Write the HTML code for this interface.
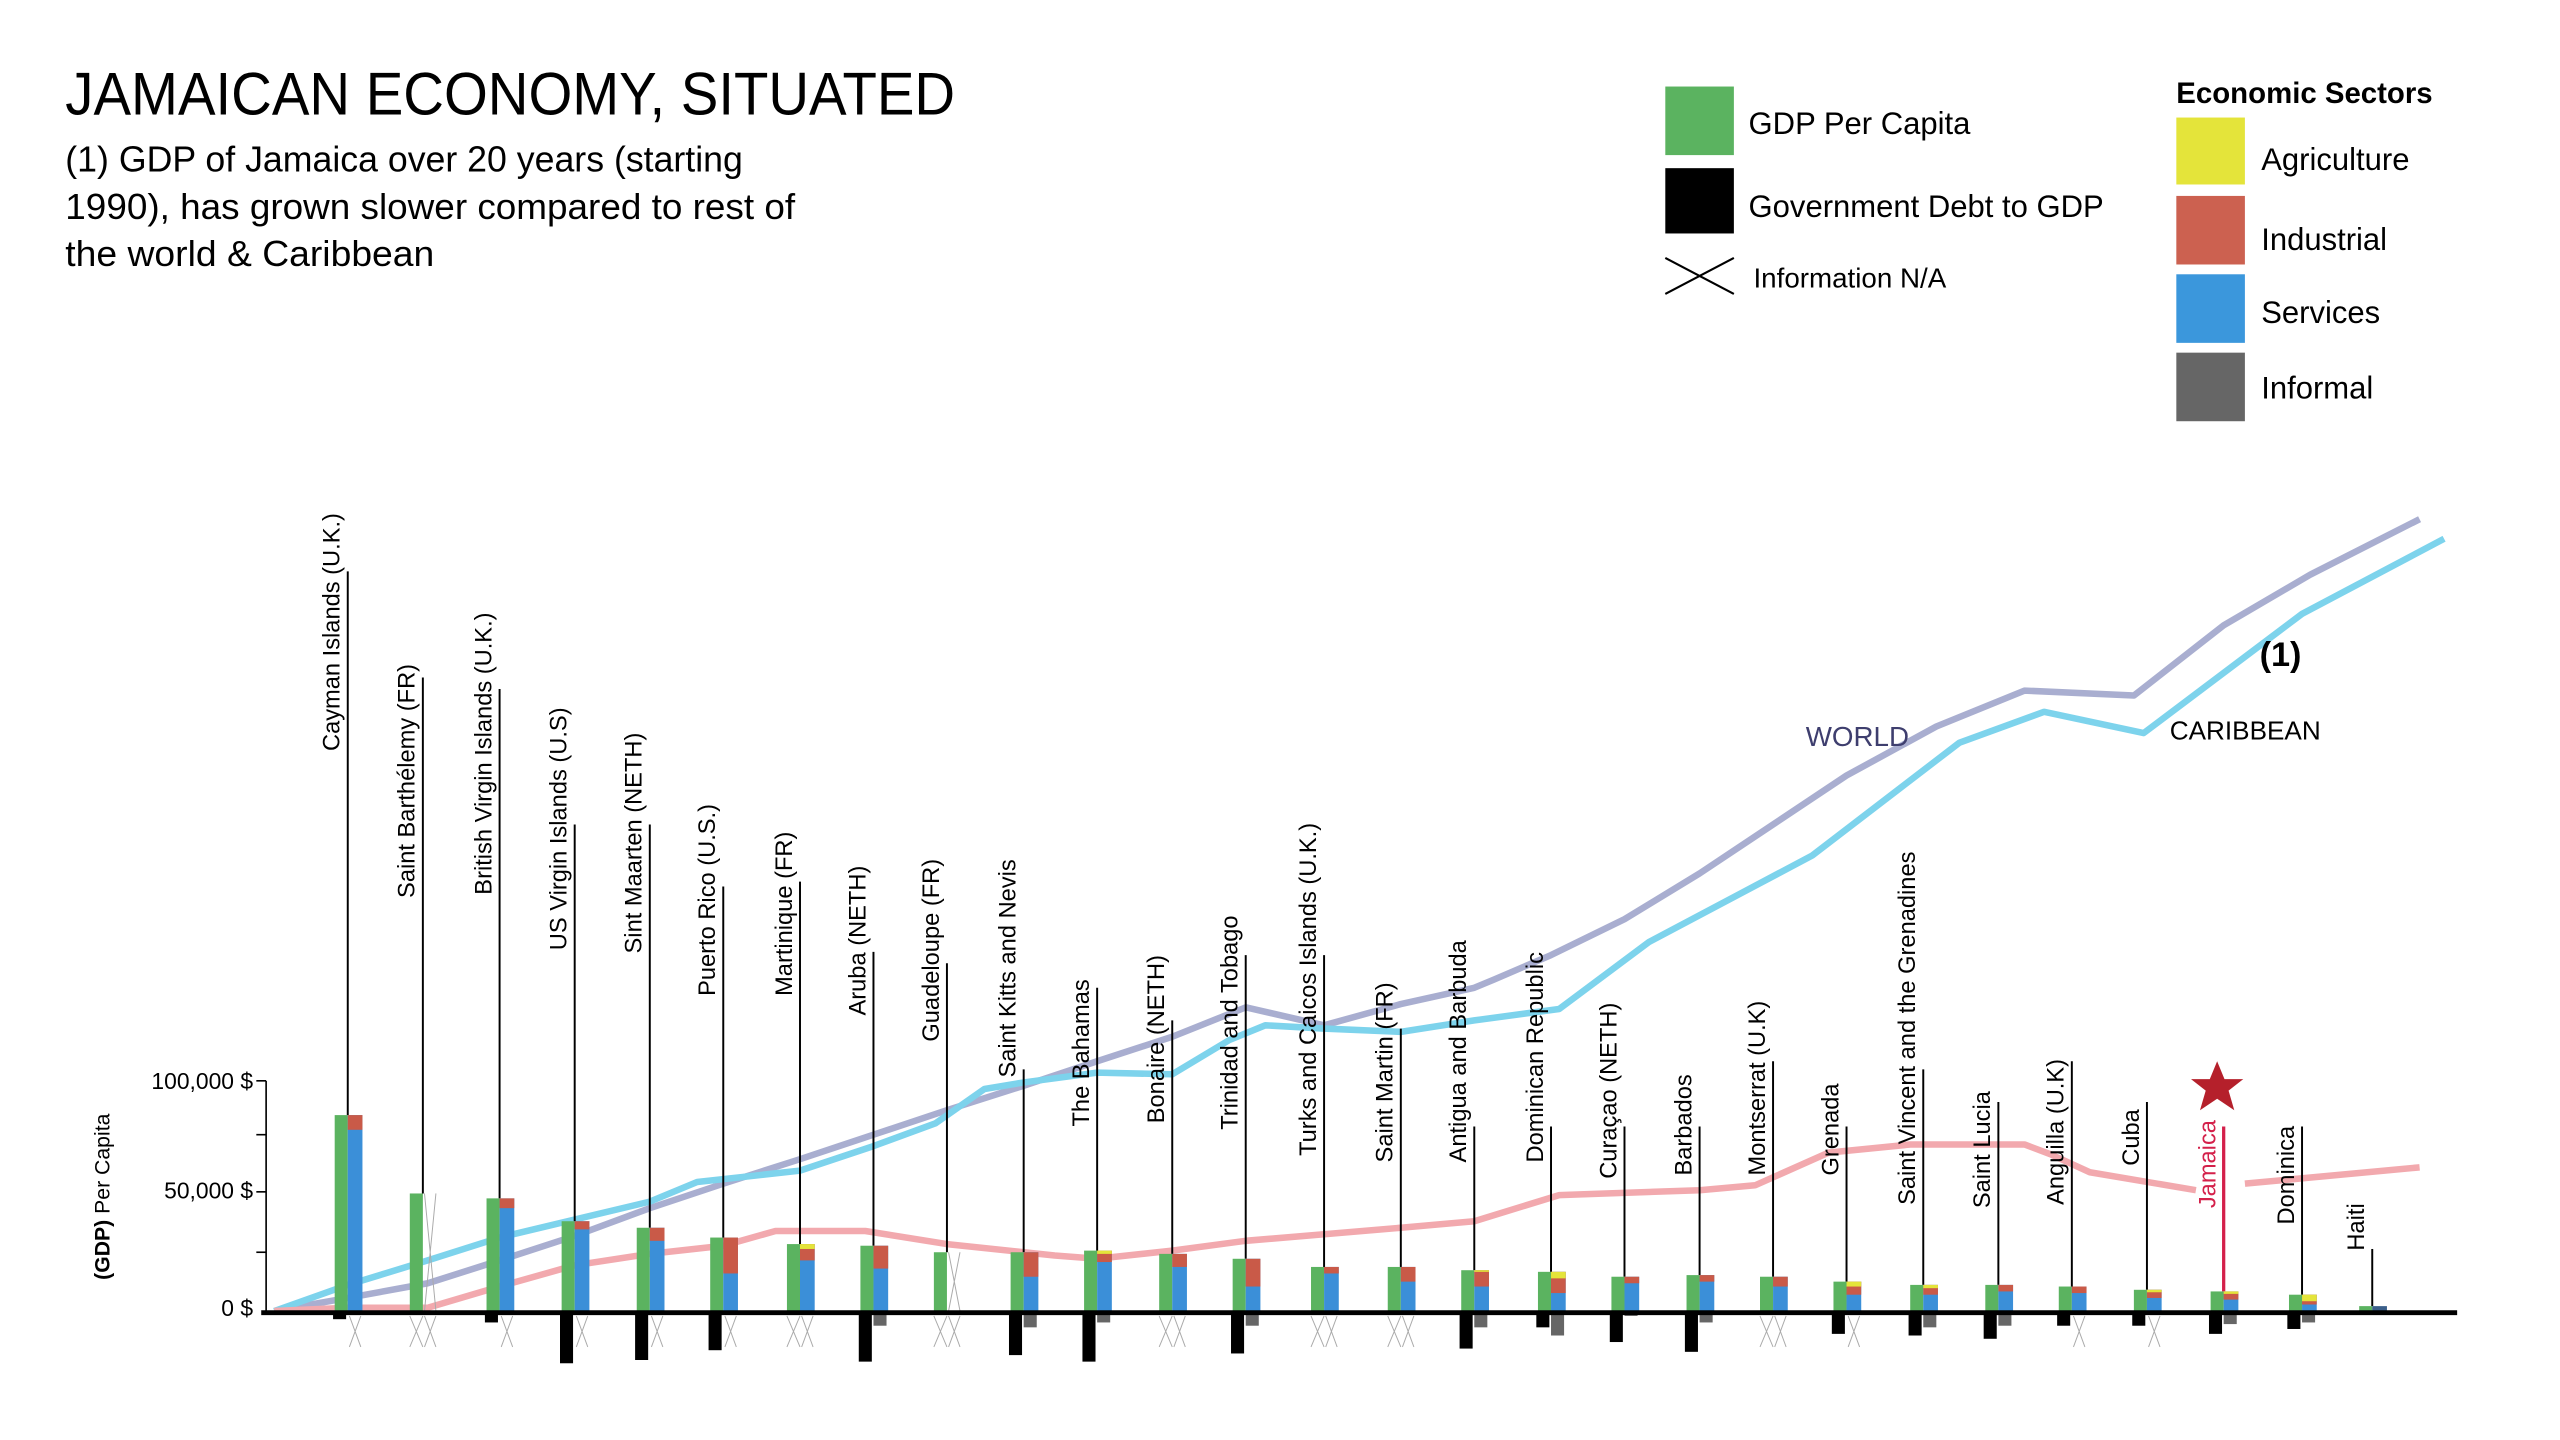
<!DOCTYPE html>
<html><head><meta charset="utf-8"><style>html,body{margin:0;padding:0;background:#fff;}svg{display:block}</style></head>
<body>
<svg width="2560" height="1440" viewBox="0 0 1568 882" preserveAspectRatio="none" xmlns="http://www.w3.org/2000/svg" font-family="'Liberation Sans Narrow','Liberation Sans',sans-serif">
<rect width="1568" height="882" fill="#fff"/>
<text x="40" y="70" font-size="37" textLength="545" lengthAdjust="spacingAndGlyphs">JAMAICAN ECONOMY, SITUATED</text>
<g font-size="22">
<text x="40" y="105" textLength="415" lengthAdjust="spacingAndGlyphs">(1) GDP of Jamaica over 20 years (starting</text>
<text x="40" y="134" textLength="447" lengthAdjust="spacingAndGlyphs">1990), has grown slower compared to rest of</text>
<text x="40" y="163" textLength="226" lengthAdjust="spacingAndGlyphs">the world &amp; Caribbean</text>
</g>
<!-- legend -->
<rect x="1020" y="53" width="42" height="42" fill="#5bb360"/>
<rect x="1020" y="103" width="42" height="40" fill="#000"/>
<path d="M1020 158 L1062 180 M1020 180 L1062 158" stroke="#000" stroke-width="1.3"/>
<g font-size="19" font-family="'Liberation Sans',sans-serif">
<text x="1071" y="82">GDP Per Capita</text>
<text x="1071" y="133">Government Debt to GDP</text>
<text x="1074" y="176" font-size="17">Information N/A</text>
<text x="1333" y="63" font-weight="bold" font-size="18">Economic Sectors</text>
<text x="1385" y="104">Agriculture</text>
<text x="1385" y="153">Industrial</text>
<text x="1385" y="198">Services</text>
<text x="1385" y="244">Informal</text>
</g>
<rect x="1333" y="72" width="42" height="41" fill="#e4e43a"/>
<rect x="1333" y="120" width="42" height="42" fill="#cc6150"/>
<rect x="1333" y="168" width="42" height="42" fill="#3b97dc"/>
<rect x="1333" y="216" width="42" height="42" fill="#666"/>

<!-- axis -->
<line x1="163" y1="662" x2="163" y2="803" stroke="#000" stroke-width="1"/>
<g stroke="#000" stroke-width="1"><line x1="157" y1="662" x2="163" y2="662"/><line x1="157" y1="695" x2="163" y2="695"/><line x1="157" y1="730" x2="163" y2="730"/><line x1="157" y1="767" x2="163" y2="767"/></g>
<g font-size="14" text-anchor="end"><text x="155" y="667">100,000 $</text><text x="155" y="734">50,000 $</text><text x="155" y="806">0 $</text></g>
<text transform="translate(67,733) rotate(-90)" text-anchor="middle" font-size="13" font-family="'Liberation Sans',sans-serif"><tspan font-weight="bold">(GDP)</tspan> Per Capita</text>

<!-- trend lines -->
<polyline fill="none" stroke="#a9aed0" stroke-width="4" stroke-linejoin="round" points="168,803 213,795 262,786 306,772 352,757 398,740 443,725 490,710 535,695 580,680 627,665 672,650 718,635 763,617 811,628 858,615 903,605 915,600 950,585 995,563 1041,535 1086,505 1131,475 1186,445 1240,423 1307,426 1362,383 1415,352 1482,318"/>
<polyline fill="none" stroke="#7dd3ec" stroke-width="4" stroke-linejoin="round" points="168,803 213,787 262,772 306,758 352,747 398,736 427,724 490,717 535,702 573,688 603,667 627,663 672,657 718,658 753,637 775,628 811,630 858,632 903,625 955,618 1010,577 1110,524 1200,455 1252,436 1313,449 1410,376 1497,330"/>
<polyline fill="none" stroke="#f2a9ae" stroke-width="4" stroke-linejoin="round" points="168,803 213,801 262,801 306,788 352,775 398,768 443,763 475,754 530,754 580,762 646,769 672,771 718,766 763,760 811,756 858,752 903,748 955,732 1041,729 1075,726 1120,706 1170,701 1240,701 1256,707 1280,718 1345,729"/>
<polyline fill="none" stroke="#f2a9ae" stroke-width="4" points="1375,725 1482,715"/>
<text x="1106" y="457" font-size="17" fill="#3e3e6e" font-family="'Liberation Sans',sans-serif">WORLD</text>
<text x="1329" y="453" font-size="16" font-family="'Liberation Sans',sans-serif">CARIBBEAN</text>
<text x="1384" y="408" font-size="21" font-weight="bold" font-family="'Liberation Sans',sans-serif">(1)</text>

<!-- countries -->
<g font-size="14.5" font-family="'Liberation Sans',sans-serif" stroke-width="0">
<g transform="translate(213,0)"><line y1="350" y2="683" stroke="#000" stroke-width="1.2"/><text transform="translate(-5,460) rotate(-90)">Cayman Islands (U.K.)</text><rect x="-8" y="683" width="8" height="120" fill="#5bb360"/><rect x="0" y="683" width="9" height="120" fill="#3b8fd8"/><rect x="0" y="683" width="9" height="9" fill="#c95a48"/><rect x="-9" y="803" width="8" height="5" fill="#000"/><path d="M1 806 L8 825 M8 806 L1 825" stroke="#aaa" stroke-width="0.6"/></g>
<g transform="translate(259,0)"><line y1="415" y2="731" stroke="#000" stroke-width="1.2"/><text transform="translate(-5,550) rotate(-90)">Saint Barthélemy (FR)</text><rect x="-8" y="731" width="8" height="72" fill="#5bb360"/><path d="M1 731 L8 803 M8 731 L1 803 M-8 806 L0 825 M0 806 L-8 825 M1 806 L8 825 M8 806 L1 825" stroke="#aaa" stroke-width="0.6"/></g>
<g transform="translate(306,0)"><line y1="422" y2="734" stroke="#000" stroke-width="1.2"/><text transform="translate(-5,548) rotate(-90)">British Virgin Islands (U.K.)</text><rect x="-8" y="734" width="8" height="69" fill="#5bb360"/><rect x="0" y="734" width="9" height="69" fill="#3b8fd8"/><rect x="0" y="734" width="9" height="6" fill="#c95a48"/><rect x="-9" y="803" width="8" height="7" fill="#000"/><path d="M1 806 L8 825 M8 806 L1 825" stroke="#aaa" stroke-width="0.6"/></g>
<g transform="translate(352,0)"><line y1="505" y2="748" stroke="#000" stroke-width="1.2"/><text transform="translate(-5,582) rotate(-90)">US Virgin Islands (U.S)</text><rect x="-8" y="748" width="8" height="55" fill="#5bb360"/><rect x="0" y="748" width="9" height="55" fill="#3b8fd8"/><rect x="0" y="748" width="9" height="5" fill="#c95a48"/><rect x="-9" y="803" width="8" height="32" fill="#000"/><path d="M1 806 L8 825 M8 806 L1 825" stroke="#aaa" stroke-width="0.6"/></g>
<g transform="translate(398,0)"><line y1="505" y2="752" stroke="#000" stroke-width="1.2"/><text transform="translate(-5,584) rotate(-90)">Sint Maarten (NETH)</text><rect x="-8" y="752" width="8" height="51" fill="#5bb360"/><rect x="0" y="752" width="9" height="51" fill="#3b8fd8"/><rect x="0" y="752" width="9" height="8" fill="#c95a48"/><rect x="-9" y="803" width="8" height="30" fill="#000"/><path d="M1 806 L8 825 M8 806 L1 825" stroke="#aaa" stroke-width="0.6"/></g>
<g transform="translate(443,0)"><line y1="543" y2="758" stroke="#000" stroke-width="1.2"/><text transform="translate(-5,610) rotate(-90)">Puerto Rico (U.S.)</text><rect x="-8" y="758" width="8" height="45" fill="#5bb360"/><rect x="0" y="758" width="9" height="45" fill="#3b8fd8"/><rect x="0" y="758" width="9" height="22" fill="#c95a48"/><rect x="-9" y="803" width="8" height="24" fill="#000"/><path d="M1 806 L8 825 M8 806 L1 825" stroke="#aaa" stroke-width="0.6"/></g>
<g transform="translate(490,0)"><line y1="540" y2="762" stroke="#000" stroke-width="1.2"/><text transform="translate(-5,610) rotate(-90)">Martinique (FR)</text><rect x="-8" y="762" width="8" height="41" fill="#5bb360"/><rect x="0" y="762" width="9" height="41" fill="#3b8fd8"/><rect x="0" y="762" width="9" height="10" fill="#c95a48"/><rect x="0" y="762" width="9" height="3" fill="#e4e43a"/><path d="M-8 806 L0 825 M0 806 L-8 825 M1 806 L8 825 M8 806 L1 825" stroke="#aaa" stroke-width="0.6"/></g>
<g transform="translate(535,0)"><line y1="583" y2="763" stroke="#000" stroke-width="1.2"/><text transform="translate(-5,622) rotate(-90)">Aruba (NETH)</text><rect x="-8" y="763" width="8" height="40" fill="#5bb360"/><rect x="0" y="763" width="9" height="40" fill="#3b8fd8"/><rect x="0" y="763" width="9" height="14" fill="#c95a48"/><rect x="-9" y="803" width="8" height="31" fill="#000"/><rect x="0" y="803" width="8" height="9" fill="#666"/></g>
<g transform="translate(580,0)"><line y1="590" y2="767" stroke="#000" stroke-width="1.2"/><text transform="translate(-5,638) rotate(-90)">Guadeloupe (FR)</text><rect x="-8" y="767" width="8" height="36" fill="#5bb360"/><path d="M1 767 L8 803 M8 767 L1 803 M-8 806 L0 825 M0 806 L-8 825 M1 806 L8 825 M8 806 L1 825" stroke="#aaa" stroke-width="0.6"/></g>
<g transform="translate(627,0)"><line y1="655" y2="767" stroke="#000" stroke-width="1.2"/><text transform="translate(-5,660) rotate(-90)">Saint Kitts and Nevis</text><rect x="-8" y="767" width="8" height="36" fill="#5bb360"/><rect x="0" y="767" width="9" height="36" fill="#3b8fd8"/><rect x="0" y="767" width="9" height="15" fill="#c95a48"/><rect x="-9" y="803" width="8" height="27" fill="#000"/><rect x="0" y="803" width="8" height="10" fill="#666"/></g>
<g transform="translate(672,0)"><line y1="605" y2="766" stroke="#000" stroke-width="1.2"/><text transform="translate(-5,690) rotate(-90)">The Bahamas</text><rect x="-8" y="766" width="8" height="37" fill="#5bb360"/><rect x="0" y="766" width="9" height="37" fill="#3b8fd8"/><rect x="0" y="766" width="9" height="7" fill="#c95a48"/><rect x="0" y="766" width="9" height="2" fill="#e4e43a"/><rect x="-9" y="803" width="8" height="31" fill="#000"/><rect x="0" y="803" width="8" height="7" fill="#666"/></g>
<g transform="translate(718,0)"><line y1="625" y2="768" stroke="#000" stroke-width="1.2"/><text transform="translate(-5,688) rotate(-90)">Bonaire (NETH)</text><rect x="-8" y="768" width="8" height="35" fill="#5bb360"/><rect x="0" y="768" width="9" height="35" fill="#3b8fd8"/><rect x="0" y="768" width="9" height="8" fill="#c95a48"/><path d="M-8 806 L0 825 M0 806 L-8 825 M1 806 L8 825 M8 806 L1 825" stroke="#aaa" stroke-width="0.6"/></g>
<g transform="translate(763,0)"><line y1="585" y2="771" stroke="#000" stroke-width="1.2"/><text transform="translate(-5,692) rotate(-90)">Trinidad and Tobago</text><rect x="-8" y="771" width="8" height="32" fill="#5bb360"/><rect x="0" y="771" width="9" height="32" fill="#3b8fd8"/><rect x="0" y="771" width="9" height="17" fill="#c95a48"/><rect x="-9" y="803" width="8" height="26" fill="#000"/><rect x="0" y="803" width="8" height="9" fill="#666"/></g>
<g transform="translate(811,0)"><line y1="585" y2="776" stroke="#000" stroke-width="1.2"/><text transform="translate(-5,708) rotate(-90)">Turks and Caicos Islands (U.K.)</text><rect x="-8" y="776" width="8" height="27" fill="#5bb360"/><rect x="0" y="776" width="9" height="27" fill="#3b8fd8"/><rect x="0" y="776" width="9" height="4" fill="#c95a48"/><path d="M-8 806 L0 825 M0 806 L-8 825 M1 806 L8 825 M8 806 L1 825" stroke="#aaa" stroke-width="0.6"/></g>
<g transform="translate(858,0)"><line y1="630" y2="776" stroke="#000" stroke-width="1.2"/><text transform="translate(-5,712) rotate(-90)">Saint Martin (FR)</text><rect x="-8" y="776" width="8" height="27" fill="#5bb360"/><rect x="0" y="776" width="9" height="27" fill="#3b8fd8"/><rect x="0" y="776" width="9" height="9" fill="#c95a48"/><path d="M-8 806 L0 825 M0 806 L-8 825 M1 806 L8 825 M8 806 L1 825" stroke="#aaa" stroke-width="0.6"/></g>
<g transform="translate(903,0)"><line y1="690" y2="778" stroke="#000" stroke-width="1.2"/><text transform="translate(-5,712) rotate(-90)">Antigua and Barbuda</text><rect x="-8" y="778" width="8" height="25" fill="#5bb360"/><rect x="0" y="778" width="9" height="25" fill="#3b8fd8"/><rect x="0" y="778" width="9" height="10" fill="#c95a48"/><rect x="0" y="778" width="9" height="1" fill="#e4e43a"/><rect x="-9" y="803" width="8" height="23" fill="#000"/><rect x="0" y="803" width="8" height="10" fill="#666"/></g>
<g transform="translate(950,0)"><line y1="690" y2="779" stroke="#000" stroke-width="1.2"/><text transform="translate(-5,712) rotate(-90)">Dominican Republic</text><rect x="-8" y="779" width="8" height="24" fill="#5bb360"/><rect x="0" y="779" width="9" height="24" fill="#3b8fd8"/><rect x="0" y="779" width="9" height="13" fill="#c95a48"/><rect x="0" y="779" width="9" height="4" fill="#e4e43a"/><rect x="-9" y="803" width="8" height="10" fill="#000"/><rect x="0" y="803" width="8" height="15" fill="#666"/></g>
<g transform="translate(995,0)"><line y1="690" y2="782" stroke="#000" stroke-width="1.2"/><text transform="translate(-5,722) rotate(-90)">Curaçao (NETH)</text><rect x="-8" y="782" width="8" height="21" fill="#5bb360"/><rect x="0" y="782" width="9" height="21" fill="#3b8fd8"/><rect x="0" y="782" width="9" height="4" fill="#c95a48"/><rect x="-9" y="803" width="8" height="19" fill="#000"/><rect x="0" y="803" width="8" height="3" fill="#666"/></g>
<g transform="translate(1041,0)"><line y1="690" y2="781" stroke="#000" stroke-width="1.2"/><text transform="translate(-5,720) rotate(-90)">Barbados</text><rect x="-8" y="781" width="8" height="22" fill="#5bb360"/><rect x="0" y="781" width="9" height="22" fill="#3b8fd8"/><rect x="0" y="781" width="9" height="4" fill="#c95a48"/><rect x="-9" y="803" width="8" height="25" fill="#000"/><rect x="0" y="803" width="8" height="7" fill="#666"/></g>
<g transform="translate(1086,0)"><line y1="650" y2="782" stroke="#000" stroke-width="1.2"/><text transform="translate(-5,720) rotate(-90)">Montserrat (U.K)</text><rect x="-8" y="782" width="8" height="21" fill="#5bb360"/><rect x="0" y="782" width="9" height="21" fill="#3b8fd8"/><rect x="0" y="782" width="9" height="6" fill="#c95a48"/><path d="M-8 806 L0 825 M0 806 L-8 825 M1 806 L8 825 M8 806 L1 825" stroke="#aaa" stroke-width="0.6"/></g>
<g transform="translate(1131,0)"><line y1="690" y2="785" stroke="#000" stroke-width="1.2"/><text transform="translate(-5,720) rotate(-90)">Grenada</text><rect x="-8" y="785" width="8" height="18" fill="#5bb360"/><rect x="0" y="785" width="9" height="18" fill="#3b8fd8"/><rect x="0" y="785" width="9" height="8" fill="#c95a48"/><rect x="0" y="785" width="9" height="3" fill="#e4e43a"/><rect x="-9" y="803" width="8" height="14" fill="#000"/><path d="M1 806 L8 825 M8 806 L1 825" stroke="#aaa" stroke-width="0.6"/></g>
<g transform="translate(1178,0)"><line y1="655" y2="787" stroke="#000" stroke-width="1.2"/><text transform="translate(-5,738) rotate(-90)">Saint Vincent and the Grenadines</text><rect x="-8" y="787" width="8" height="16" fill="#5bb360"/><rect x="0" y="787" width="9" height="16" fill="#3b8fd8"/><rect x="0" y="787" width="9" height="6" fill="#c95a48"/><rect x="0" y="787" width="9" height="2" fill="#e4e43a"/><rect x="-9" y="803" width="8" height="15" fill="#000"/><rect x="0" y="803" width="8" height="10" fill="#666"/></g>
<g transform="translate(1224,0)"><line y1="675" y2="787" stroke="#000" stroke-width="1.2"/><text transform="translate(-5,740) rotate(-90)">Saint Lucia</text><rect x="-8" y="787" width="8" height="16" fill="#5bb360"/><rect x="0" y="787" width="9" height="16" fill="#3b8fd8"/><rect x="0" y="787" width="9" height="4" fill="#c95a48"/><rect x="-9" y="803" width="8" height="17" fill="#000"/><rect x="0" y="803" width="8" height="9" fill="#666"/></g>
<g transform="translate(1269,0)"><line y1="650" y2="788" stroke="#000" stroke-width="1.2"/><text transform="translate(-5,738) rotate(-90)">Anguilla (U.K)</text><rect x="-8" y="788" width="8" height="15" fill="#5bb360"/><rect x="0" y="788" width="9" height="15" fill="#3b8fd8"/><rect x="0" y="788" width="9" height="4" fill="#c95a48"/><rect x="-9" y="803" width="8" height="9" fill="#000"/><path d="M1 806 L8 825 M8 806 L1 825" stroke="#aaa" stroke-width="0.6"/></g>
<g transform="translate(1315,0)"><line y1="675" y2="790" stroke="#000" stroke-width="1.2"/><text transform="translate(-5,714) rotate(-90)">Cuba</text><rect x="-8" y="790" width="8" height="13" fill="#5bb360"/><rect x="0" y="790" width="9" height="13" fill="#3b8fd8"/><rect x="0" y="790" width="9" height="5" fill="#c95a48"/><rect x="0" y="790" width="9" height="1.5" fill="#e4e43a"/><rect x="-9" y="803" width="8" height="9" fill="#000"/><path d="M1 806 L8 825 M8 806 L1 825" stroke="#aaa" stroke-width="0.6"/></g>
<g transform="translate(1362,0)"><line y1="690" y2="791" stroke="#d4204a" stroke-width="2"/><text transform="translate(-5,740) rotate(-90)" fill="#d4204a">Jamaica</text><rect x="-8" y="791" width="8" height="12" fill="#5bb360"/><rect x="0" y="791" width="9" height="12" fill="#3b8fd8"/><rect x="0" y="791" width="9" height="5" fill="#c95a48"/><rect x="0" y="791" width="9" height="1.5" fill="#e4e43a"/><rect x="-9" y="803" width="8" height="14" fill="#000"/><rect x="0" y="803" width="8" height="8" fill="#666"/></g>
<polygon points="1358,650 1362.5,661 1374,661 1365,668 1368.5,680 1358,673 1347.5,680 1351,668 1342,661 1353.5,661" fill="#b5202b"/>
<g transform="translate(1410,0)"><line y1="690" y2="793" stroke="#000" stroke-width="1.2"/><text transform="translate(-5,750) rotate(-90)">Dominica</text><rect x="-8" y="793" width="8" height="10" fill="#5bb360"/><rect x="0" y="793" width="9" height="10" fill="#3b8fd8"/><rect x="0" y="793" width="9" height="6" fill="#c95a48"/><rect x="0" y="793" width="9" height="4" fill="#e4e43a"/><rect x="-9" y="803" width="8" height="11" fill="#000"/><rect x="0" y="803" width="8" height="7" fill="#666"/></g>
<g transform="translate(1453,0)"><line y1="765" y2="800" stroke="#000" stroke-width="1.2"/><text transform="translate(-5,766) rotate(-90)">Haiti</text><rect x="-8" y="800" width="8" height="3" fill="#5bb360"/><rect x="0" y="800" width="9" height="3" fill="#3b5f8a"/></g>
</g>
<line x1="160" y1="804" x2="1505" y2="804" stroke="#000" stroke-width="3"/>
</svg>
</body></html>
